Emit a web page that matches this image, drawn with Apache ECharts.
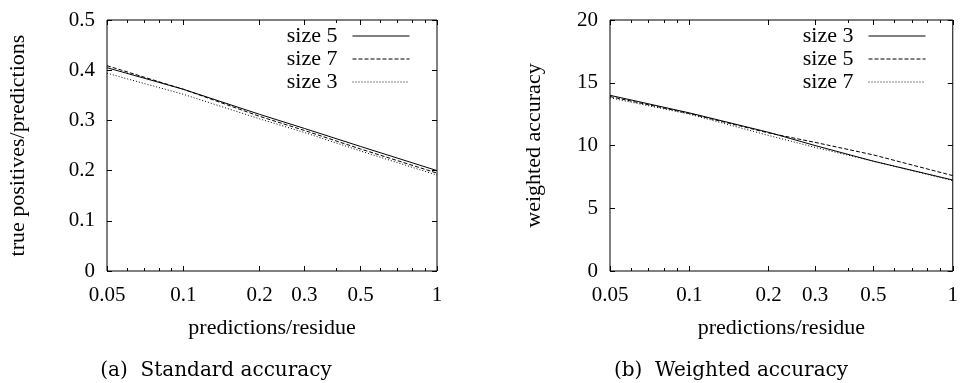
<!DOCTYPE html>
<html><head><meta charset="utf-8">
<script src="https://cdn.jsdelivr.net/npm/echarts@6/dist/echarts.min.js"></script>
<style>html,body{margin:0;padding:0;background:#fff}#c{width:961px;height:383px}</style>
</head><body><div id="c"></div><script>
// ---- data ----
const xValues = [0.05, 0.1, 0.2, 0.3, 0.5, 1];
const xTickValues = [0.05, 0.1, 0.2, 0.3, 0.5, 1];
const xTickLabels = ['0.05', '0.1', '0.2', '0.3', '0.5', '1'];
const xMinorTicks = [0.06, 0.07, 0.08, 0.09, 0.4, 0.6, 0.7, 0.8, 0.9];

const stdSize5 = [0.405, 0.362, 0.312, 0.284, 0.248, 0.200];
const stdSize7 = [0.409, 0.362, 0.308, 0.280, 0.243, 0.195];
const stdSize3 = [0.394, 0.352, 0.303, 0.276, 0.239, 0.191];

const wSize3 = [14.0, 12.6, 11.05, 10.0, 8.75, 7.25];
const wSize5 = [13.9, 12.55, 11.0, 10.25, 9.25, 7.6];
const wSize7 = [13.8, 12.5, 10.8, 9.85, 8.75, 7.2];

const stdLegend = ['size 5', 'size 7', 'size 3'];
const wLegend = ['size 3', 'size 5', 'size 7'];
const captionA = '(a)  Standard accuracy';
const captionB = '(b)  Weighted accuracy';

// ---- styles ----
const FONT = 'Liberation Serif';
const CAPFONT = 'DejaVu Serif';
const styles = {
  solid: {type: 'solid', width: 1, color: '#000'},
  dashed: {type: [4, 2], width: 1, color: '#000'},
  dotted: {type: [1, 2], width: 1, color: '#000'}
};

const lg = v => Math.log10(v);
const majorsLog = xTickValues.map(lg);
const minorsLog = xMinorTicks.map(lg);
const fmtX = v => {
  let best = 0;
  for (let i = 0; i < majorsLog.length; i++) {
    if (Math.abs(majorsLog[i] - v) < Math.abs(majorsLog[best] - v)) best = i;
  }
  return xTickLabels[best];
};

function xAxesFor(g, name, nameGap) {
  const min = lg(xTickValues[0]), max = lg(xTickValues[xTickValues.length - 1]);
  const base = {
    type: 'value', gridIndex: g, min: min, max: max,
    axisLine: {show: false, onZero: false}, splitLine: {show: false},
    axisLabel: {show: false}, axisTick: {show: false}
  };
  const tick = (vals, len) => ({show: true, inside: true, length: len, customValues: vals, lineStyle: {color: '#000', width: 1}});
  return [
    {type: 'log', logBase: 10, gridIndex: g, min: xTickValues[0], max: xTickValues[xTickValues.length - 1], show: false,
     axisLine: {onZero: false}},
    Object.assign({}, base, {
      position: 'bottom', name: name, nameLocation: 'middle', nameGap: nameGap,
      nameTextStyle: {fontFamily: FONT, fontSize: 22, color: '#000'},
      axisTick: tick(majorsLog, 5),
      axisLabel: {show: true, customValues: majorsLog, formatter: fmtX, margin: 14,
                  fontFamily: FONT, fontSize: 21, color: '#000'}
    }),
    Object.assign({}, base, {position: 'bottom', axisTick: tick(minorsLog, 3)}),
    Object.assign({}, base, {position: 'top', axisTick: tick(majorsLog, 5)}),
    Object.assign({}, base, {position: 'top', axisTick: tick(minorsLog, 3)})
  ];
}

function yAxesFor(g, max, interval, name, nameGap) {
  return [
    {type: 'value', gridIndex: g, min: 0, max: max, interval: interval, position: 'left',
     name: name, nameLocation: 'middle', nameGap: nameGap,
     nameTextStyle: {fontFamily: FONT, fontSize: 22, color: '#000'},
     axisLine: {show: false, onZero: false}, splitLine: {show: false},
     axisTick: {show: true, inside: true, length: 5, lineStyle: {color: '#000'}},
     axisLabel: {margin: 12, fontFamily: FONT, fontSize: 21, color: '#000'}},
    {type: 'value', gridIndex: g, min: 0, max: max, interval: interval, position: 'right',
     axisLine: {show: false, onZero: false}, splitLine: {show: false},
     axisTick: {show: true, inside: true, length: 5, lineStyle: {color: '#000'}},
     axisLabel: {show: false}}
  ];
}

function series(name, ys, style, xi, yi) {
  return {
    type: 'line', name: name, xAxisIndex: xi, yAxisIndex: yi, symbol: 'none',
    lineStyle: style, itemStyle: {color: '#000'}, animation: false, silent: true,
    data: xValues.map((x, i) => [x, ys[i]])
  };
}

function legendFor(names, styleList, right) {
  return {
    orient: 'vertical', right: right, top: 25, padding: 0, align: 'right', itemWidth: 57, itemHeight: 14,
    itemGap: 1, selectedMode: false,
    textStyle: {fontFamily: FONT, fontSize: 22, color: '#000', padding: [0, 10, 0, 0]},
    data: names.map((n, i) => ({
      name: n, lineStyle: styleList[i],
      itemStyle: {color: 'rgba(0,0,0,0)', borderWidth: 0, opacity: 0}
    }))
  };
}

const option = {
  backgroundColor: '#fff',
  animation: false,
  grid: [
    {left: 107, top: 20, width: 330, height: 251, show: true, borderColor: '#000', borderWidth: 1, backgroundColor: 'transparent'},
    {left: 610, top: 20, width: 343, height: 251, show: true, borderColor: '#000', borderWidth: 1, backgroundColor: 'transparent'}
  ],
  xAxis: xAxesFor(0, 'predictions/residue', 46).concat(xAxesFor(1, 'predictions/residue', 46)),
  yAxis: yAxesFor(0, 0.5, 0.1, 'true positives/predictions', 78).concat(yAxesFor(1, 20, 5, 'weighted accuracy', 65)),
  legend: [
    legendFor(stdLegend, [styles.solid, styles.dashed, styles.dotted], 551),
    legendFor(wLegend, [styles.solid, styles.dashed, styles.dotted], 35)
  ],
  series: [
    series('size 5', stdSize5, styles.solid, 0, 0),
    series('size 7', stdSize7, styles.dashed, 0, 0),
    series('size 3', stdSize3, styles.dotted, 0, 0),
    series('size 3', wSize3, styles.solid, 5, 2),
    series('size 5', wSize5, styles.dashed, 5, 2),
    series('size 7', wSize7, styles.dotted, 5, 2)
  ],
  graphic: [
    {type: 'text', x: 216, y: 371, silent: true,
     style: {text: captionA, fontFamily: CAPFONT, fontSize: 20, fill: '#000', align: 'center', verticalAlign: 'middle'}},
    {type: 'text', x: 731, y: 371, silent: true,
     style: {text: captionB, fontFamily: CAPFONT, fontSize: 20, fill: '#000', align: 'center', verticalAlign: 'middle'}}
  ]
};
const chart = echarts.init(document.getElementById('c'), null, {renderer: 'canvas'});
chart.setOption(option);
</script></body></html>
